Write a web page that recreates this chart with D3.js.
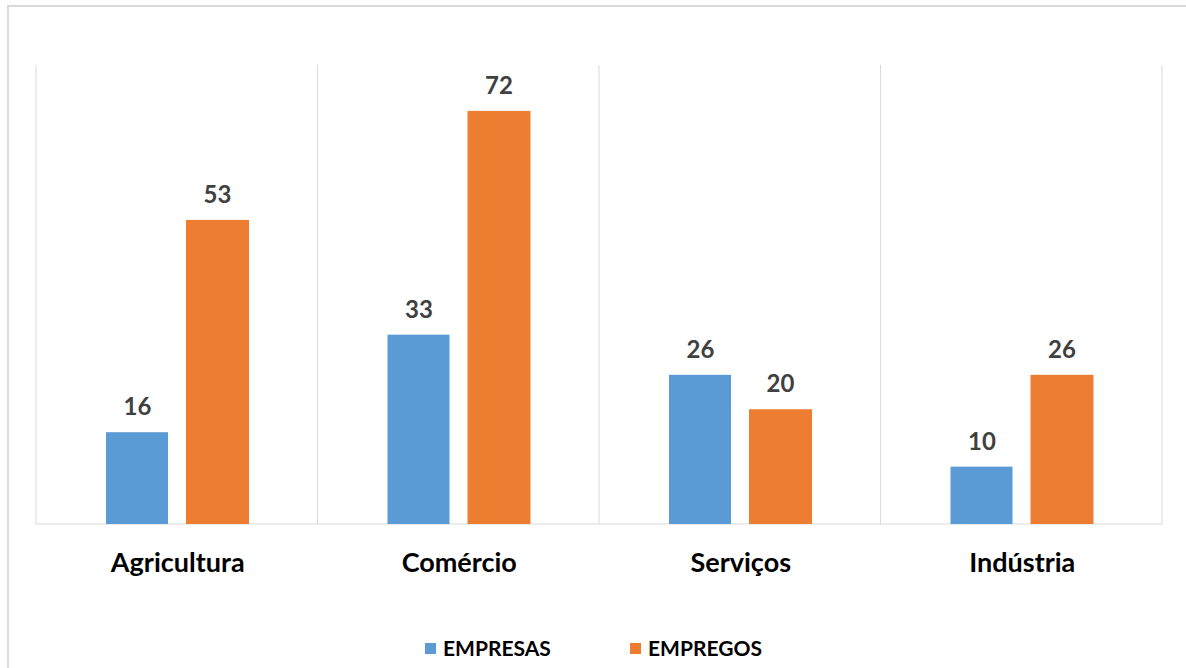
<!DOCTYPE html>
<html><head><meta charset="utf-8">
<script src="https://cdn.jsdelivr.net/npm/d3@7"></script>
<style>body{margin:0;background:#fff;font-family:Lato,"Open Sans",sans-serif;}</style>
</head><body><svg id="c" width="1186" height="668"></svg>
<script>
const categories = ["Agricultura", "Comércio", "Serviços", "Indústria"];
const seriesNames = ["EMPRESAS", "EMPREGOS"];
const empresas = [16, 33, 26, 10];
const empregos = [53, 72, 20, 26];
const colors = ["#5B9BD5", "#ED7D31"];

const svg = d3.select("#c");
// outer frame
svg.append("rect").attr("x", 8).attr("y", 6).attr("width", 1200).attr("height", 700)
  .attr("fill", "none").attr("stroke", "#d9d9d9").attr("stroke-width", 2);

const m = {l: 36, r: 1162, t: 65, b: 524};
const x = d3.scaleBand().domain(categories).range([m.l, m.r]).padding(0);
const y = d3.scaleLinear().domain([0, 80]).range([m.b, m.t]);

// gridlines/separators
const g = svg.append("g");
const seps = [m.l].concat(categories.map(c => x(c) + x.bandwidth()));
g.selectAll("line.sep").data(seps).join("line")
  .attr("x1", d => d).attr("x2", d => d).attr("y1", m.t).attr("y2", m.b)
  .attr("stroke", "#d9d9d9").attr("stroke-width", 1);
g.append("line").attr("x1", m.l).attr("x2", m.r).attr("y1", m.b).attr("y2", m.b)
  .attr("stroke", "#d9d9d9").attr("stroke-width", 1);

const data = categories.map((c, i) => ({c, vals: [empresas[i], empregos[i]]}));
const barW = 62;
const groups = svg.selectAll("g.cat").data(data).join("g")
  .attr("transform", d => `translate(${x(d.c)},0)`);
groups.each(function(d) {
  const gg = d3.select(this);
  d.vals.forEach((v, j) => {
    const bx = 70 + j * (barW + 18);
    gg.append("rect").attr("x", bx).attr("y", y(v)).attr("width", barW + (j ? 1 : 0))
      .attr("height", m.b - y(v)).attr("fill", colors[j]);
    gg.append("text").attr("x", bx + barW / 2 + 0.5).attr("y", y(v) - 17)
      .attr("text-anchor", "middle").attr("font-size", 24).attr("font-weight", 700)
      .attr("fill", "#404040").text(v);
  });
});

// category axis labels
svg.selectAll("text.cat").data(categories).join("text")
  .attr("x", d => x(d) + x.bandwidth() / 2 + 1).attr("y", 572)
  .attr("text-anchor", "middle").attr("font-size", 27).attr("font-weight", 700)
  .attr("fill", "#000").text(d => d);

// legend
const leg = svg.append("g");
const legX = [425, 630];
seriesNames.forEach((s, i) => {
  leg.append("rect").attr("x", legX[i]).attr("y", 643).attr("width", 11).attr("height", 11).attr("fill", colors[i]);
  leg.append("text").attr("x", legX[i] + 18).attr("y", 656).attr("font-size", 21)
    .attr("font-weight", 700).attr("fill", "#000").text(s);
});
</script></body></html>
